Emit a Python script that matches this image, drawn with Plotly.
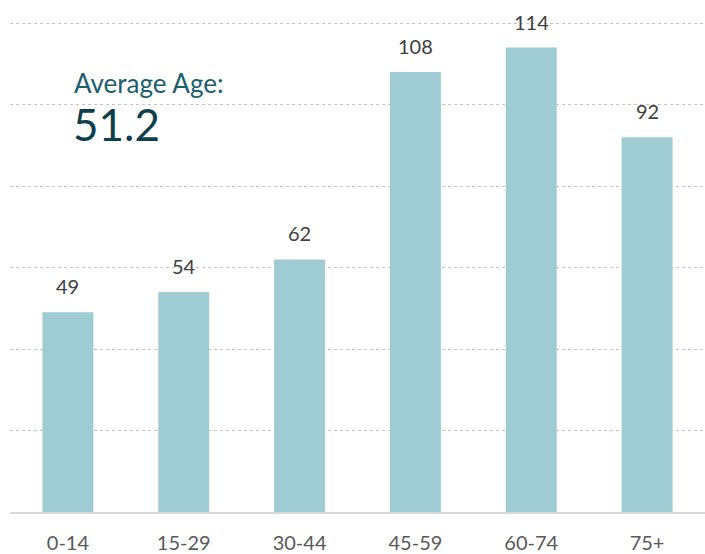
import plotly.graph_objects as go

categories = ["0-14", "15-29", "30-44", "45-59", "60-74", "75+"]
values = [49, 54, 62, 108, 114, 92]
avg_label = "Average Age:"
avg_value = "51.2"

FONT = "Lato, Noto Sans, sans-serif"

fig = go.Figure(go.Bar(
    x=categories, y=values,
    marker=dict(color="#9FCBD3", line=dict(width=0)),
    hoverinfo="x+y",
))

for c, v in zip(categories, values):
    fig.add_annotation(x=c, y=v, text=str(v), showarrow=False, yanchor="middle",
                       yshift=26, font=dict(family=FONT, size=20, color="#404040"))

fig.update_layout(
    width=705, height=554,
    margin=dict(l=10, r=0, t=19, b=42),
    paper_bgcolor="white", plot_bgcolor="white",
    bargap=0.56,
    showlegend=False,
    xaxis=dict(showgrid=False, showline=True, linecolor="#D9D9D9", linewidth=2,
               ticks="", ticklabelstandoff=12,
               tickfont=dict(family=FONT, size=20, color="#595959")),
    yaxis=dict(range=[0, 121], tickvals=[0, 20, 40, 60, 80, 100, 120],
               showticklabels=False, zeroline=False,
               showgrid=True, gridcolor="#C4C4C4", griddash="dot", gridwidth=1),
)

def px_y(sy):
    return (512 - sy) / 4.075

fig.add_annotation(text=avg_label, xref="paper", yref="y",
                   x=(72 - 10) / 695, y=px_y(83), xanchor="left", yanchor="middle",
                   showarrow=False, font=dict(family=FONT, size=26, color="#1B5E6E"))
fig.add_annotation(text=avg_value, xref="paper", yref="y",
                   x=(71 - 10) / 695, y=px_y(124), xanchor="left", yanchor="middle",
                   showarrow=False, font=dict(family=FONT, size=44, color="#0E3F4C"))

fig.write_html("out.html", config={"displayModeBar": False},
               post_script="document.body.style.margin='0';document.body.style.overflow='hidden';")
